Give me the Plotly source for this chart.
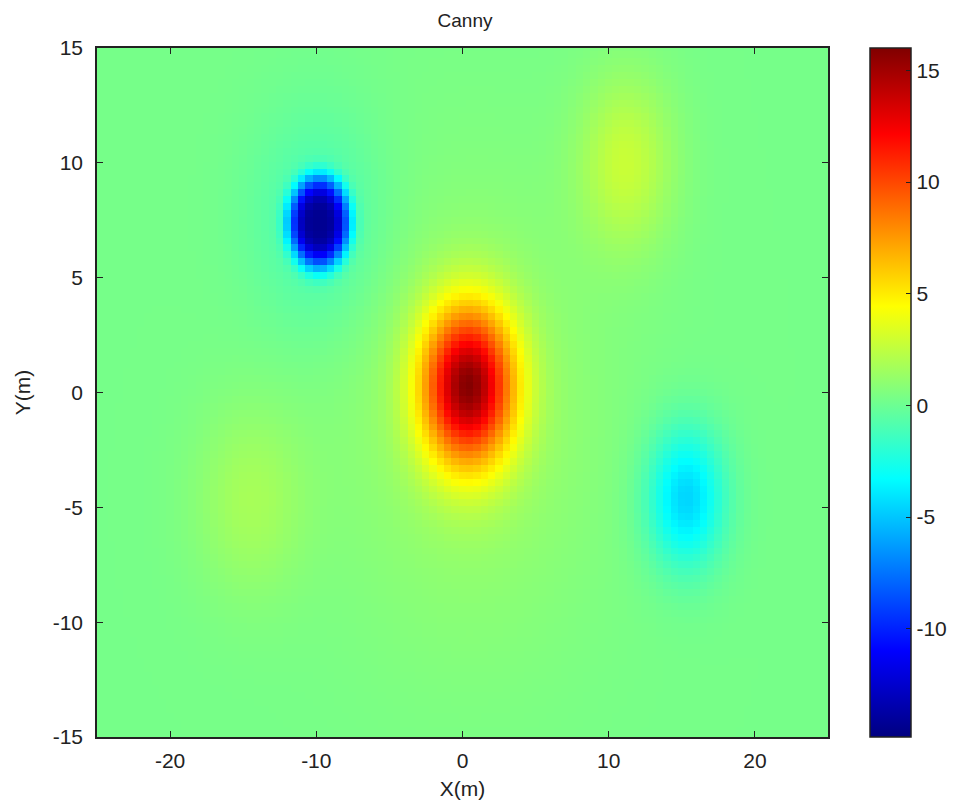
import numpy as np
import plotly.graph_objects as go

# Survey grid (metres)
x_grid = np.arange(-25.0, 25.0001, 0.5)
y_grid = np.arange(-15.0, 15.0001, 0.3)

# Anomaly sources: centre, amplitude, semi-axes and profile exponent
src_x = [0.4, -9.8, -9.8, 15.3, 11.2, -14.5, 0.5]
src_y = [0.3, 7.4, 7.4, -4.6, 10.0, -4.7, -1.0]
src_amp = [14.4, -13.2, -1.6, -4.9, 2.4, 1.4, 1.2]
src_ax = [3.1, 2.1, 4.5, 2.6, 3.2, 3.8, 9.0]
src_ay = [3.4, 2.0, 4.8, 3.0, 3.8, 4.2, 10.0]
src_pow = [2, 4, 2, 2, 2, 2, 2]
background = 0.3

# Colour limits
z_min, z_max = -14.85, 16.0
cbar_ticks = [-10, -5, 0, 5, 10, 15]
x_ticks = [-20, -10, 0, 10, 20]
y_ticks = [-15, -10, -5, 0, 5, 10, 15]

X, Y = np.meshgrid(x_grid, y_grid)
Z = np.full_like(X, background)
for cx, cy, a, ax_, ay_, p in zip(src_x, src_y, src_amp, src_ax, src_ay, src_pow):
    r = np.sqrt(((X - cx) / ax_) ** 2 + ((Y - cy) / ay_) ** 2)
    Z += a * np.exp(-r ** p)

jet = [
    [0.0, "rgb(0,0,128)"],
    [0.125, "rgb(0,0,255)"],
    [0.375, "rgb(0,255,255)"],
    [0.625, "rgb(255,255,0)"],
    [0.875, "rgb(255,0,0)"],
    [1.0, "rgb(128,0,0)"],
]

font_family = "Liberation Sans, Arial, sans-serif"
tick_size = 21
label_size = 21
text_color = "#222"


def labels(vals):
    return [str(v) for v in vals]


fig = go.Figure(
    go.Heatmap(
        x=x_grid,
        y=y_grid,
        z=Z,
        zmin=z_min,
        zmax=z_max,
        colorscale=jet,
        zsmooth=False,
        colorbar=dict(
            x=(870 - 97) / 731,
            xanchor="left",
            y=0,
            yanchor="bottom",
            len=1,
            lenmode="fraction",
            thickness=41,
            thicknessmode="pixels",
            xpad=0,
            ypad=0,
            outlinewidth=1.5,
            outlinecolor=text_color,
            tickvals=cbar_ticks,
            ticktext=labels(cbar_ticks),
            ticks="inside",
            ticklen=5,
            tickcolor=text_color,
            tickfont=dict(family=font_family, size=tick_size, color=text_color),
        ),
    )
)

fig.update_layout(
    width=965,
    height=809,
    margin=dict(l=97, r=137, t=48, b=72),
    paper_bgcolor="white",
    plot_bgcolor="white",
    title=dict(
        text="Canny",
        x=465 / 965,
        xanchor="center",
        y=1 - 20 / 809,
        yanchor="middle",
        font=dict(family=font_family, size=19, color=text_color),
    ),
    font=dict(family=font_family, size=tick_size, color=text_color),
)

axis_common = dict(
    ticks="inside",
    ticklen=6,
    tickcolor=text_color,
    showline=True,
    linecolor=text_color,
    linewidth=1.5,
    mirror="allticks",
    showgrid=False,
    zeroline=False,
    tickfont=dict(family=font_family, size=tick_size, color=text_color),
)

fig.update_xaxes(
    range=[-25, 25],
    tickvals=x_ticks,
    ticktext=labels(x_ticks),
    ticklabelstandoff=4,
    title=dict(text="X(m)", standoff=10,
               font=dict(family=font_family, size=label_size, color=text_color)),
    **axis_common,
)
fig.update_yaxes(
    range=[-15, 15],
    tickvals=y_ticks,
    ticktext=labels(y_ticks),
    ticklabelstandoff=8,
    title=dict(text="Y(m)", standoff=16,
               font=dict(family=font_family, size=label_size, color=text_color)),
    **axis_common,
)

fig.write_html("out.html")
